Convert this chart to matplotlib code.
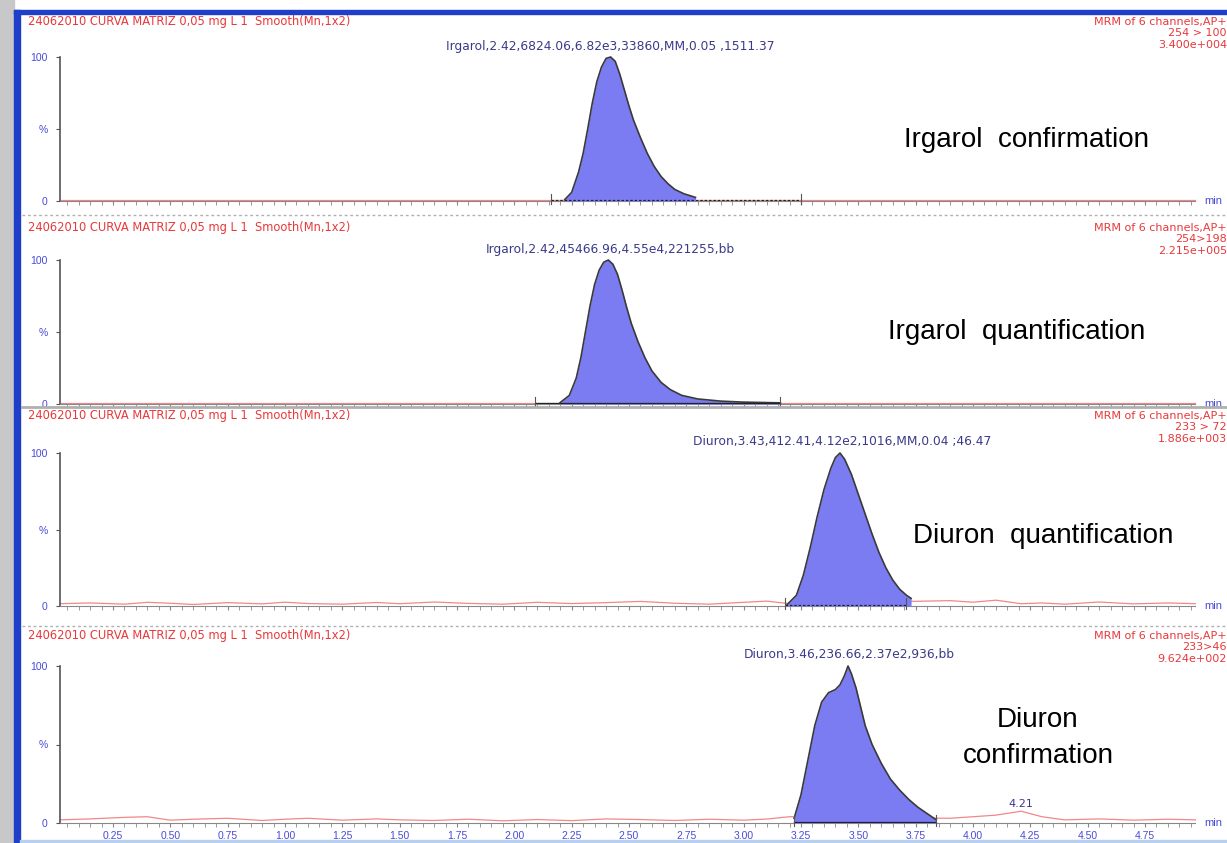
import numpy as np
import matplotlib
matplotlib.use("Agg")
import matplotlib.pyplot as plt
from matplotlib.ticker import MultipleLocator
from matplotlib.lines import Line2D
from matplotlib.patches import Rectangle

W, H = 1227, 843

# --- data (time in min, intensity in %) ---
header = "24062010 CURVA MATRIZ 0,05 mg L 1  Smooth(Mn,1x2)"
channels = ["254 > 100", "254>198", "233 > 72", "233>46"]
scales = ["3.400e+004", "2.215e+005", "1.886e+003", "9.624e+002"]
peak_labels = [
    "Irgarol,2.42,6824.06,6.82e3,33860,MM,0.05 ,1511.37",
    "Irgarol,2.42,45466.96,4.55e4,221255,bb",
    "Diuron,3.43,412.41,4.12e2,1016,MM,0.04 ;46.47",
    "Diuron,3.46,236.66,2.37e2,936,bb",
]
peak_rt = [2.42, 2.42, 3.43, 3.46]
names = ["Irgarol  confirmation", "Irgarol  quantification",
         "Diuron  quantification", "Diuron\nconfirmation"]

# peak outlines
p1_t = [2.22, 2.25, 2.28, 2.30, 2.32, 2.34, 2.36, 2.38, 2.40, 2.42, 2.44, 2.46, 2.48,
        2.50, 2.52, 2.55, 2.58, 2.61, 2.64, 2.67, 2.70, 2.74, 2.79]
p1_v = [1, 6, 20, 33, 50, 68, 83, 93, 99, 100, 97, 88, 77, 66, 56, 44, 33, 24, 17,
        12, 8, 5, 2.5]
p2_t = [2.20, 2.24, 2.27, 2.29, 2.31, 2.33, 2.35, 2.37, 2.39, 2.41, 2.43, 2.45, 2.47,
        2.49, 2.51, 2.54, 2.57, 2.60, 2.64, 2.68, 2.73, 2.80, 2.90, 3.00, 3.16]
p2_v = [1, 6, 18, 32, 50, 68, 83, 93, 98.5, 100, 97, 90, 79, 67, 56, 43, 32, 23, 15,
        10, 6, 3.5, 2, 1.3, 0.8]
p3_t = [3.19, 3.23, 3.26, 3.29, 3.32, 3.35, 3.38, 3.40, 3.42, 3.44, 3.47, 3.50, 3.53,
        3.56, 3.59, 3.62, 3.65, 3.68, 3.71, 3.73]
p3_v = [1, 7, 20, 38, 58, 76, 90, 97, 100, 96, 86, 73, 60, 47, 35, 25, 17, 11, 7, 5]
p4_t = [3.22, 3.25, 3.28, 3.31, 3.34, 3.37, 3.40, 3.42, 3.44, 3.455, 3.47, 3.49, 3.51,
        3.53, 3.56, 3.60, 3.64, 3.68, 3.72, 3.76, 3.80, 3.84]
p4_v = [3, 18, 40, 62, 77, 83, 85, 88, 94, 100, 95, 86, 74, 62, 50, 38, 28, 21, 15,
        10, 6, 2]
peaks_t = [p1_t, p2_t, p3_t, p4_t]
peaks_v = [p1_v, p2_v, p3_v, p4_v]

# integration baselines (start, end, dashed?)
base_start = [2.16, 2.09, 3.18, 3.22]
base_end = [3.25, 3.16, 3.71, 3.84]
base_dashed = [True, False, True, False]

# red noise traces
noise_t = [0.02, 0.15, 0.30, 0.40, 0.50, 0.60, 0.75, 0.90, 1.00, 1.10, 1.25, 1.40,
           1.50, 1.65, 1.80, 1.95, 2.10, 2.25, 2.40, 2.55, 2.70, 2.85, 3.00, 3.10,
           3.20, 3.90, 4.00, 4.10, 4.21, 4.30, 4.40, 4.55, 4.70, 4.85, 4.97]
n1_v = [0.5] * len(noise_t)
n2_v = [0.5] * len(noise_t)
n3_v = [1.5, 2.0, 1.2, 2.4, 1.8, 1.0, 2.2, 1.4, 2.5, 1.6, 1.2, 2.3, 1.5, 2.6, 1.7,
        1.2, 2.4, 1.6, 2.2, 3.0, 1.8, 1.2, 2.4, 3.2, 1.5, 3.5, 2.5, 3.8, 1.5, 2.0,
        1.2, 2.6, 1.4, 2.0, 1.5]
n4_v = [2.0, 2.6, 3.6, 4.0, 1.8, 2.4, 3.0, 1.6, 2.4, 3.0, 1.8, 2.6, 2.0, 1.6, 2.4,
        1.4, 2.2, 1.5, 2.6, 2.2, 1.6, 2.4, 1.8, 2.5, 4.0, 3.0, 4.0, 5.0, 7.5, 4.0,
        2.0, 2.6, 1.8, 2.4, 2.0]
noise_v = [n1_v, n2_v, n3_v, n4_v]

# pixel rows of the 0 and 100 ticks per panel
y0_px = [201, 404, 606, 823]
y100_px = [57, 260, 453, 666]
name_xy = [(1027, 140), (1017, 332), (1043, 536), (1038, 738)]
header_y = [22, 228, 416, 636]

plt.rcParams['font.family'] = ['Liberation Sans', 'DejaVu Sans']
small = ['DejaVu Sans']

red = "#e8383a"
tickblue = "#4a4ad8"
navy = "#3a3a8a"
fillc = "#7b7bf2"
edge = "#3a3a3a"

fig = plt.figure(figsize=(W / 100, H / 100), dpi=100)

def fx(x):
    return x / W

def fy(y):
    return 1 - y / H

# window frame
fig.patches.append(Rectangle((0, 0), fx(14), 1, transform=fig.transFigure,
                             color="#c8c8c8", zorder=0))
fig.patches.append(Rectangle((fx(14), 0), fx(6), fy(10), transform=fig.transFigure,
                             color="#1f3fc8", zorder=1))
fig.patches.append(Rectangle((fx(14), fy(14)), 1, 4 / H, transform=fig.transFigure,
                             color="#1f3fc8", zorder=1))
fig.patches.append(Rectangle((fx(20), 0), 1, 3 / H, transform=fig.transFigure,
                             color="#b8d0f0", zorder=1))
for ysep, ls, lw in [(215, (0, (2, 2)), 1.0), (407, "-", 2.0), (626, (0, (2, 2)), 1.0)]:
    fig.add_artist(Line2D([fx(22), 1], [fy(ysep), fy(ysep)], color="#b0b0b0",
                          lw=lw, ls=ls, transform=fig.transFigure))

xlo, xhi = 0.019, 4.968
for i in range(4):
    ax = fig.add_axes([fx(60), fy(y0_px[i]), fx(1195) - fx(60),
                       (y0_px[i] - y100_px[i]) / H])
    ax.set_xlim(xlo, xhi)
    ax.set_ylim(0, 100)
    for s in ["top", "right"]:
        ax.spines[s].set_visible(False)
    ax.spines["left"].set_color("#555555")
    ax.spines["bottom"].set_color("#888888")
    ax.spines["left"].set_linewidth(1.2)
    ax.set_yticks([0, 50, 100])
    ax.set_yticklabels(["0", "%", "100"])
    ax.tick_params(axis="y", length=3, color="#555555", labelsize=7.5,
                   labelcolor=tickblue, pad=6)
    ax.xaxis.set_major_locator(MultipleLocator(0.25))
    ax.xaxis.set_minor_locator(MultipleLocator(0.05))
    ax.tick_params(axis="x", which="both", length=3, color="#888888",
                   labelsize=7.5, labelcolor=tickblue, pad=3)
    if i < 3:
        ax.tick_params(axis="x", labelbottom=False)
    else:
        ax.set_xticks(np.arange(0.25, 4.8, 0.25))
        ax.set_xticklabels([f"{v:.2f}" for v in np.arange(0.25, 4.8, 0.25)])

    ax.plot(noise_t, noise_v[i], color=red, lw=0.9, alpha=0.6, zorder=2, clip_on=False)

    t = peaks_t[i]
    v = peaks_v[i]
    ax.fill_between(t, 0, v, color=fillc, zorder=3, lw=0)
    ax.plot(t, v, color=edge, lw=1.2, zorder=4, clip_on=False)

    bls = (0, (2, 1.5)) if base_dashed[i] else "-"
    ax.plot([base_start[i], base_end[i]], [0.8, 0.8], color="#222222", lw=0.9,
            ls=bls, zorder=5)
    for tb in [base_start[i], base_end[i]]:
        ax.plot([tb, tb], [-2, 5], color="#555555", lw=0.8, zorder=5, clip_on=False)

    ax.text(peak_rt[i], 103, peak_labels[i], ha="center", va="bottom",
            fontsize=8.8, color=navy, family=small)
    if i == 3:
        ax.text(4.21, 9, "4.21", ha="center", va="bottom", fontsize=8, color=navy,
                family=small)

    ax.text(xhi + 0.04, 0, "min", ha="left", va="center", fontsize=8,
            color=tickblue, clip_on=False)

    nx, ny = name_xy[i]
    fig.text(fx(nx), fy(ny), names[i], ha="center", va="center", fontsize=20,
             color="black", linespacing=1.5)

    # header lines above each panel
    hy = header_y[i]
    fig.text(fx(28), fy(hy), header, ha="left", va="center", fontsize=8.3,
             color=red, family=small)
    fig.text(fx(1227), fy(hy), "MRM of 6 channels,AP+", ha="right", va="center",
             fontsize=8, color=red, family=small)
    fig.text(fx(1227), fy(hy + 11.5), channels[i], ha="right", va="center",
             fontsize=8, color=red, family=small)
    fig.text(fx(1227), fy(hy + 23), scales[i], ha="right", va="center",
             fontsize=8, color=red, family=small)

fig.savefig("out.png", dpi=100)
